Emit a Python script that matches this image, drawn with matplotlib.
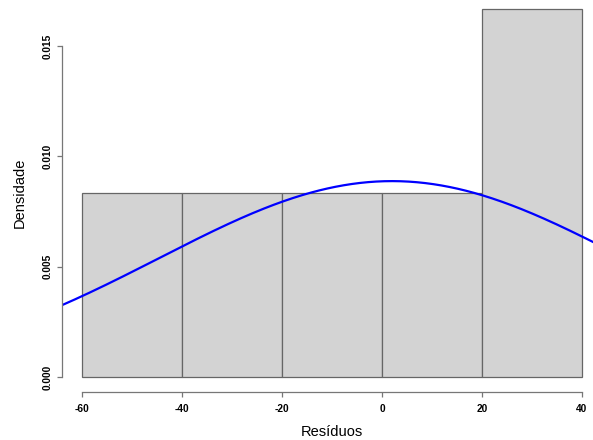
import numpy as np
import matplotlib
matplotlib.use('Agg')
import matplotlib.pyplot as plt

# --- dados ---
bin_edges = [-60, -40, -20, 0, 20, 40]
densidade = [0.00833, 0.00833, 0.00833, 0.00833, 0.01667]
x_ticks = [-60, -40, -20, 0, 20, 40]
x_tick_labels = ['-60', '-40', '-20', '0', '20', '40']
y_ticks = [0.000, 0.005, 0.010, 0.015]
y_tick_labels = ['0.000', '0.005', '0.010', '0.015']

# curva normal ajustada (parâmetros estimados da figura)
curva_media = 2.0
curva_dp = 46.6
curva_pico = 0.00888

plt.rcParams.update({'font.family': ['Liberation Sans', 'DejaVu Sans']})

W, H = 593, 440
fig = plt.figure(figsize=(W / 100, H / 100), dpi=100)

# área do gráfico em pixels (esquerda 62, base 392, topo 0)
left_px, bottom_px, top_px = 62, 392, 0
ax = fig.add_axes([left_px / W, (H - bottom_px) / H,
                   (W - left_px) / W, (bottom_px - top_px) / H])

larguras = np.diff(bin_edges)
ax.bar(bin_edges[:-1], densidade, width=larguras, align='edge',
       color='#d3d3d3', edgecolor='#666666', linewidth=0.9, zorder=1)

xs = np.linspace(-80, 50, 400)
ys = curva_pico * np.exp(-0.5 * ((xs - curva_media) / curva_dp) ** 2)
ax.plot(xs, ys, color='#0000ff', linewidth=1.6, zorder=2)

# limites (pixel -> dados)
ax.set_xlim(-64, -64 + (W - left_px) / 5.0)
ax.set_ylim(-(bottom_px - 377) / 22060, 377 / 22060)

for s in ['top', 'right']:
    ax.spines[s].set_visible(False)
ax.spines['left'].set_bounds(0, 0.015)
ax.spines['bottom'].set_bounds(-60, 40)
for s in ['left', 'bottom']:
    ax.spines[s].set_color('#777777')
    ax.spines[s].set_linewidth(0.9)

ax.set_xticks(x_ticks)
ax.set_xticklabels(x_tick_labels, fontsize=7.3, fontweight='bold')
ax.set_yticks(y_ticks)
ax.set_yticklabels(y_tick_labels, fontsize=7.3, fontweight='bold',
                   rotation=90, va='center')
ax.tick_params(axis='both', direction='out', length=3.6, width=0.9,
               color='#777777')
ax.tick_params(axis='x', pad=5)
ax.tick_params(axis='y', pad=3)

fig.text(332 / W, 1 - 432 / H, 'Resíduos', fontsize=10.5,
         ha='center', va='center')
fig.text(20 / W, 1 - 193 / H, 'Densidade', fontsize=10.5,
         ha='center', va='center', rotation=90)

fig.savefig('out.png', dpi=100)
